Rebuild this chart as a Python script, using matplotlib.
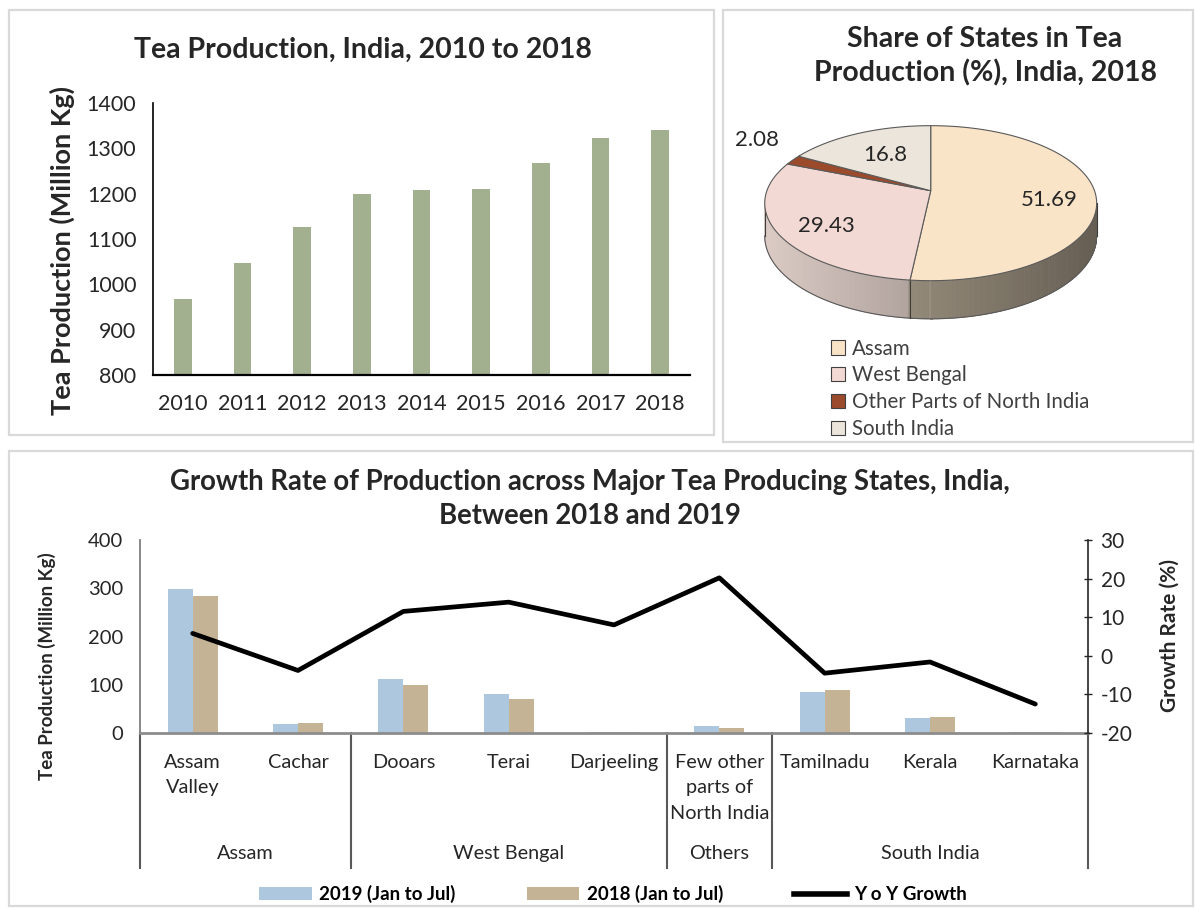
import numpy as np
import matplotlib
matplotlib.use("Agg")
import matplotlib.pyplot as plt
from matplotlib.patches import Polygon, Patch, Rectangle
from matplotlib.lines import Line2D
from matplotlib.colors import to_rgb
import matplotlib.transforms as mtransforms

plt.rcParams["font.family"] = ["Lato", "DejaVu Sans"]
plt.rcParams["axes.unicode_minus"] = False

# ── Data ─────────────────────────────────────────────────────────────────────
years = ["2010", "2011", "2012", "2013", "2014", "2015", "2016", "2017", "2018"]
production = [967, 1047, 1126, 1200, 1209, 1210, 1268, 1323, 1340]

pie_labels = ["Assam", "West Bengal", "Other Parts of North India", "South India"]
pie_shares = [51.69, 29.43, 2.08, 16.8]
pie_colors = ["#fae4c8", "#f2d9d3", "#9b4a2b", "#ebe5db"]

regions = ["Assam\nValley", "Cachar", "Dooars", "Terai", "Darjeeling",
           "Few other\nparts of\nNorth India", "Tamilnadu", "Kerala", "Karnataka"]
groups = ["Assam", "West Bengal", "Others", "South India"]
group_sizes = [2, 3, 1, 3]
prod_2019 = [299, 19.5, 111, 81, 3, 14.5, 86, 32, 2]
prod_2018 = [283, 20, 99, 70, 3, 10.5, 88.5, 32.5, 2]
yoy_growth = [5.8, -3.8, 11.5, 13.9, 8.0, 20.2, -4.5, -1.6, -12.5]

W, H = 1195, 909
fig = plt.figure(figsize=(W / 100, H / 100), dpi=100)
INK = "#262626"


def fx(px):
    return px / W


def fy(py):
    return 1 - py / H


# ── Panel frames ─────────────────────────────────────────────────────────────
for x0, y0, x1, y1 in [(9, 10, 714, 435), (723, 10, 1193, 442), (9, 451, 1193, 906)]:
    fig.patches.append(Rectangle((fx(x0), fy(y1)), fx(x1 - x0), (y1 - y0) / H,
                                 transform=fig.transFigure, fill=False,
                                 edgecolor="#d9d9d9", lw=1.6))

# ── Top-left: bar chart ──────────────────────────────────────────────────────
ax1 = fig.add_axes([fx(153), fy(375), fx(537), 272 / H])
ax1.bar(np.arange(len(years)), production, 0.3, color="#a3b08f")
ax1.set_xlim(-0.5, len(years) - 0.5)
ax1.set_ylim(800, 1400)
ax1.set_yticks(range(800, 1401, 100))
ax1.set_xticks(np.arange(len(years)), years)
ax1.tick_params(axis="both", length=0, labelsize=15.5, colors=INK)
ax1.tick_params(axis="y", pad=12)
ax1.tick_params(axis="x", pad=14)
for s in ["top", "right"]:
    ax1.spines[s].set_visible(False)
ax1.spines["left"].set_linewidth(1.2)
ax1.spines["bottom"].set_linewidth(1.6)
fig.text(fx(62), fy(250), "Tea Production (Million Kg)", rotation=90,
         ha="center", va="center", fontsize=19.5, fontweight="bold", color=INK)
fig.text(fx(363), fy(50), "Tea Production, India, 2010 to 2018",
         ha="center", va="center", fontsize=20.5, fontweight="bold", color=INK)

# ── Top-right: 3D-looking pie ────────────────────────────────────────────────
CX, CY, A, B, K, DEPTH = 930.7, 190.7, 163.8, 75.5, 0.161, 32.0


def project(theta_deg, r=1.0, drop=0.0):
    t = np.radians(theta_deg)
    c, s = r * np.cos(t), r * np.sin(t)
    w = 1 + K * s
    return CX + A * c / w, CY - B * s / w + drop / w


axp = fig.add_axes([fx(740), fy(345), fx(385), 240 / H])
axp.set_xlim(740, 1125)
axp.set_ylim(345, 105)
axp.axis("off")

cum = np.concatenate([[0], np.cumsum(pie_shares)])
theta_start = 90 - 3.6 * cum[:-1]
theta_end = 90 - 3.6 * cum[1:]

# side wall (front half only)
sil = np.degrees(np.arcsin(K))
side_a, side_b = -180 + sil, -sil
xs_l, _ = project(side_a)
xs_r, _ = project(side_b)
side_base = {0: "#b8ab96", 1: "#dccbc5"}
steps = np.linspace(side_a, side_b, 240)
for ta, tb in zip(steps[:-1], steps[1:]):
    tm = (ta + tb) / 2
    idx = None
    for i in range(len(pie_shares)):
        lo, hi = sorted([theta_start[i], theta_end[i]])
        if lo <= tm <= hi or lo <= tm + 360 <= hi:
            idx = i
    xa, ya = project(ta)
    xb, yb = project(tb)
    xa2, ya2 = project(ta, drop=DEPTH)
    xb2, yb2 = project(tb, drop=DEPTH)
    t = ((xa + xb) / 2 - xs_l) / (xs_r - xs_l)
    base = np.array(to_rgb(side_base.get(idx, pie_colors[idx])))
    col = base * (1 - 0.45 * t)
    axp.add_patch(Polygon([(xa, ya), (xb, yb), (xb2, yb2), (xa2, ya2)],
                          closed=True, facecolor=col, edgecolor=col, lw=0.6, zorder=1))

arc = np.linspace(side_a, side_b, 200)
bx, by = project(arc, drop=DEPTH)
axp.plot(bx, by, color="#5a5a5a", lw=0.8, zorder=2)
for tb in [side_a, side_b] + [t for t in theta_end if side_a < t < side_b]:
    x_top, y_top = project(tb)
    x_bot, y_bot = project(tb, drop=DEPTH)
    axp.plot([x_top, x_bot], [y_top, y_bot], color="#3c3c3c", lw=0.8, zorder=2)

# top face
for i in range(len(pie_shares)):
    th = np.linspace(theta_start[i], theta_end[i], 120)
    px, py = project(th)
    pts = [(CX, CY)] + list(zip(px, py))
    axp.add_patch(Polygon(pts, closed=True, facecolor=pie_colors[i],
                          edgecolor="#5a5a5a", lw=0.8, zorder=3))

label_r = [0.72, 0.7, 1.28, 0.6]
label_dy = [6, 6, -12, 0]
for i, share in enumerate(pie_shares):
    mid = (theta_start[i] + theta_end[i]) / 2
    lx, ly = project(mid, r=label_r[i])
    axp.text(lx, ly + label_dy[i], f"{share:g}", ha="center", va="center",
             fontsize=16, color=INK, zorder=4)

fig.text(fx(985), fy(56), "Share of States in Tea\nProduction (%), India, 2018",
         ha="center", va="center", fontsize=20.5, fontweight="bold",
         linespacing=1.35, color=INK)

pie_handles = [Patch(facecolor=c, edgecolor="#404040", lw=0.8) for c in pie_colors]
fig.legend(pie_handles, pie_labels, loc="upper left",
           bbox_to_anchor=(fx(812), fy(320)), frameon=False, fontsize=14.8,
           handlelength=0.7, handleheight=0.7, handletextpad=0.35,
           labelspacing=0.34, labelcolor="#404040")

# ── Bottom: growth chart ─────────────────────────────────────────────────────
ax2 = fig.add_axes([fx(140), fy(733), fx(948), 193 / H])
xpos = np.arange(len(regions))
bw = 0.237
ax2.bar(xpos - bw / 2, prod_2019, bw, color="#adc8de", label="2019 (Jan to Jul)")
ax2.bar(xpos + bw / 2, prod_2018, bw, color="#c4b394", label="2018 (Jan to Jul)")
ax2.set_xlim(-0.5, len(regions) - 0.5)
ax2.set_ylim(0, 400)
ax2.set_yticks(range(0, 401, 100))
ax2.set_xticks(xpos, regions)
ax2.tick_params(axis="x", length=0, pad=15, labelsize=14.3, colors=INK)
for lab in ax2.get_xticklabels():
    lab.set_linespacing(1.6)
    lab.set_verticalalignment("top")
ax2.tick_params(axis="y", length=0, pad=12, labelsize=14.5, colors=INK)
for s in ["top", "right"]:
    ax2.spines[s].set_visible(False)
ax2.spines["left"].set_color("#7f7f7f")
ax2.spines["left"].set_linewidth(1.3)
ax2.spines["bottom"].set_color("#8c8c8c")
ax2.spines["bottom"].set_linewidth(2)

ax3 = ax2.twinx()
ax3.plot(xpos, yoy_growth, color="black", lw=3.4, solid_joinstyle="round",
         solid_capstyle="round", label="Y o Y Growth")
ax3.set_ylim(-20, 30)
ax3.set_yticks(range(-20, 31, 10))
ax3.tick_params(axis="y", direction="inout", length=6, width=1, pad=6,
                labelsize=15, colors=INK)
for s in ["top", "left", "bottom"]:
    ax3.spines[s].set_visible(False)
ax3.spines["right"].set_color(INK)
ax3.spines["right"].set_linewidth(1.2)

# group separators and labels
trans = mtransforms.blended_transform_factory(ax2.transData, ax2.transAxes)
bounds = np.concatenate([[0], np.cumsum(group_sizes)]) - 0.5
for b in bounds:
    ax2.plot([b, b], [0, -0.70], transform=trans, clip_on=False,
             color="#595959", lw=1.5)
for g, lo, hi in zip(groups, bounds[:-1], bounds[1:]):
    ax2.text((lo + hi) / 2, -0.625, g, transform=trans, ha="center", va="center",
             fontsize=14.3, color=INK)

fig.text(fx(47), fy(666), "Tea Production (Million Kg)", rotation=90,
         ha="center", va="center", fontsize=13.5, fontweight="bold", color=INK)
fig.text(fx(1170), fy(636), "Growth Rate (%)", rotation=90,
         ha="center", va="center", fontsize=15, fontweight="bold", color=INK)
fig.text(fx(590), fy(499),
         "Growth Rate of Production across Major Tea Producing States, India,\n"
         "Between 2018 and 2019",
         ha="center", va="center", fontsize=19.8, fontweight="bold",
         linespacing=1.42, color=INK)

handles = [Patch(facecolor="#adc8de"), Patch(facecolor="#c4b394"),
           Line2D([0], [0], color="black", lw=4)]
fig.legend(handles, ["2019 (Jan to Jul)", "2018 (Jan to Jul)", "Y o Y Growth"],
           loc="center", bbox_to_anchor=(fx(613), fy(894)), ncol=3, frameon=False,
           prop={"size": 13.5, "weight": "bold"}, handlelength=2.8,
           handleheight=0.65, handletextpad=0.4, columnspacing=3.8)

fig.savefig("out.png", dpi=100)
